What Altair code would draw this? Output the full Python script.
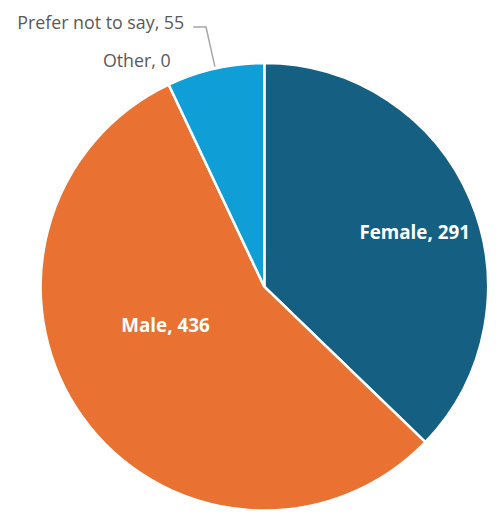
import math
import altair as alt
import pandas as pd

categories = ["Female", "Male", "Other", "Prefer not to say"]
counts = [291, 436, 0, 55]
colors = ["#156082", "#E97132", "#196B24", "#0F9ED5"]

df = pd.DataFrame({"category": categories, "count": counts, "order": list(range(len(categories)))})
df["label"] = df["category"] + ", " + df["count"].astype(str)

W, H = 485, 505
CX, CY = 259, 279
R = 226
FONT = "Open Sans"

base = alt.Chart(df).encode(
    theta=alt.Theta("count:Q", stack=True),
    order=alt.Order("order:Q"),
    x=alt.value(CX),
    y=alt.value(CY),
)

pie = base.mark_arc(outerRadius=R, stroke="white", strokeWidth=2.5).encode(
    color=alt.Color("category:N", scale=alt.Scale(domain=categories, range=colors), legend=None)
)


def label_layer(cat, radius, dx, dy, color, bold, size, align="center"):
    return base.mark_text(
        radius=radius, dx=dx, dy=dy, align=align, baseline="middle",
        font=FONT, fontSize=size, fontWeight="bold" if bold else "normal", color=color,
    ).encode(
        text=alt.condition(f"datum.category == '{cat}'", alt.Text("label:N"), alt.value(""))
    )


female_lbl = label_layer("Female", 165, 0, 10, "white", True, 19)
male_lbl = label_layer("Male", 123, 0, -32, "white", True, 19)
other_lbl = label_layer("Other", 240, 8, -10, "#595959", False, 18, "right")
prefer_lbl = label_layer("Prefer not to say", 269, -22, -3, "#595959", False, 18, "right")

# leader line for "Prefer not to say", derived from the slice geometry
total = sum(counts)
start = sum(counts[:3]) / total
mid = (start + 1.0) / 2 * 2 * math.pi
ax, ay = CX + (R + 2) * math.sin(mid), CY - (R + 2) * math.cos(mid)
bx, by = CX + R * 1.19 * math.sin(mid), CY - R * 1.19 * math.cos(mid)
leader_df = pd.DataFrame({"px": [ax, bx, bx - 13], "py": [ay, by, by], "i": [0, 1, 2]})
leader = alt.Chart(leader_df).mark_line(color="#A6A6A6", strokeWidth=1.5).encode(
    x=alt.X("px:Q", scale=None),
    y=alt.Y("py:Q", scale=None),
    order="i:Q",
)

chart = alt.layer(pie, leader, female_lbl, male_lbl, other_lbl, prefer_lbl).properties(
    width=W, height=H, padding=0
).configure_view(stroke=None)

chart.save("out.html", embed_options={"renderer": "svg", "actions": False})
